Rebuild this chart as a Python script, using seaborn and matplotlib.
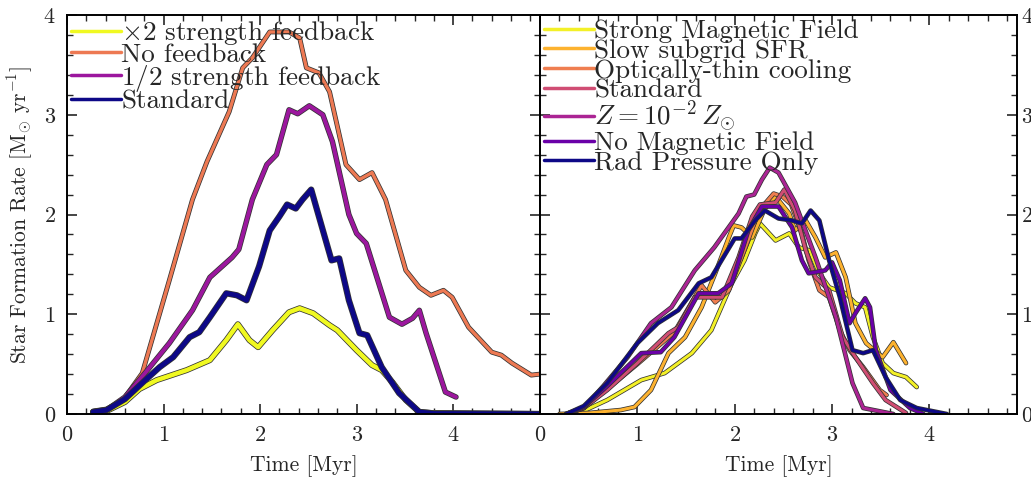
import numpy as np
import pandas as pd
import matplotlib
matplotlib.use("Agg")
import matplotlib.pyplot as plt
import matplotlib.patheffects as pe
from matplotlib.lines import Line2D
from matplotlib.ticker import MultipleLocator
import seaborn as sns

# ---------------- data ----------------
# Left panel: feedback strength runs
L_x2_t = [0.27, 0.41, 0.60, 0.75, 0.93, 1.24, 1.48, 1.65, 1.77, 1.89, 1.98, 2.13, 2.30, 2.41, 2.55, 2.72, 2.80, 3.00, 3.16, 3.26, 3.37, 3.51, 3.65, 3.78, 4.90]
L_x2_v = [0.02, 0.03, 0.12, 0.25, 0.34, 0.44, 0.54, 0.74, 0.90, 0.74, 0.67, 0.84, 1.02, 1.06, 1.01, 0.89, 0.84, 0.64, 0.49, 0.44, 0.32, 0.14, 0.02, 0.01, 0.00]

L_nofb_t = [0.27, 0.41, 0.58, 0.78, 1.06, 1.30, 1.45, 1.68, 1.82, 1.92, 2.10, 2.30, 2.41, 2.48, 2.61, 2.72, 2.89, 3.03, 3.16, 3.30, 3.51, 3.65, 3.77, 3.90, 3.99, 4.16, 4.40, 4.50, 4.61, 4.81, 4.90]
L_nofb_v = [0.03, 0.05, 0.14, 0.41, 1.34, 2.15, 2.53, 3.03, 3.47, 3.57, 3.83, 3.83, 3.77, 3.47, 3.42, 3.23, 2.50, 2.35, 2.42, 2.15, 1.44, 1.27, 1.19, 1.24, 1.17, 0.87, 0.62, 0.59, 0.51, 0.39, 0.40]

L_half_t = [0.27, 0.41, 0.60, 0.80, 1.06, 1.30, 1.48, 1.71, 1.78, 1.92, 2.07, 2.17, 2.30, 2.39, 2.51, 2.65, 2.75, 2.92, 3.00, 3.10, 3.34, 3.47, 3.58, 3.65, 3.72, 3.92, 4.03]
L_half_v = [0.02, 0.04, 0.17, 0.40, 0.71, 1.04, 1.37, 1.57, 1.65, 2.15, 2.50, 2.60, 3.05, 3.01, 3.09, 3.00, 2.73, 2.00, 1.81, 1.71, 0.97, 0.90, 0.96, 1.04, 0.81, 0.22, 0.17]

L_std_t = [0.27, 0.41, 0.60, 0.80, 0.96, 1.10, 1.27, 1.37, 1.48, 1.65, 1.76, 1.86, 1.99, 2.10, 2.20, 2.28, 2.37, 2.44, 2.53, 2.58, 2.74, 2.82, 2.92, 3.03, 3.11, 3.26, 3.44, 3.65, 3.80, 4.90]
L_std_v = [0.02, 0.04, 0.15, 0.33, 0.47, 0.57, 0.77, 0.82, 0.97, 1.21, 1.19, 1.14, 1.48, 1.84, 1.98, 2.10, 2.06, 2.15, 2.25, 2.08, 1.54, 1.56, 1.14, 0.81, 0.79, 0.47, 0.21, 0.02, 0.005, 0.00]

left_labels = [r"$\times$2 strength feedback", "No feedback", r"$1/2$ strength feedback", "Standard"]

# Right panel: physics variations
R_strong_t = [0.38, 0.69, 1.04, 1.28, 1.56, 1.76, 1.97, 2.10, 2.21, 2.26, 2.42, 2.56, 2.66, 2.77, 2.87, 2.97, 3.14, 3.24, 3.34, 3.42, 3.52, 3.63, 3.76, 3.87]
R_strong_v = [0.00, 0.14, 0.34, 0.41, 0.61, 0.84, 1.31, 1.54, 1.81, 1.91, 1.74, 1.81, 1.67, 1.64, 1.41, 1.27, 1.21, 1.11, 1.07, 0.77, 0.51, 0.41, 0.37, 0.27]

R_slow_t = [0.20, 0.50, 0.83, 0.97, 1.14, 1.32, 1.49, 1.66, 1.80, 1.94, 1.99, 2.07, 2.18, 2.31, 2.42, 2.56, 2.62, 2.73, 2.83, 2.93, 3.04, 3.14, 3.24, 3.35, 3.52, 3.63, 3.76]
R_slow_v = [0.00, 0.01, 0.04, 0.07, 0.24, 0.61, 0.77, 1.07, 1.41, 1.77, 1.89, 1.87, 1.77, 2.06, 2.18, 2.01, 1.84, 1.94, 1.77, 1.57, 1.62, 1.37, 0.91, 0.71, 0.57, 0.72, 0.51]

R_thin_t = [0.27, 0.45, 0.69, 1.00, 1.38, 1.66, 1.80, 1.94, 2.11, 2.25, 2.40, 2.49, 2.58, 2.69, 2.76, 2.87, 2.97, 3.08, 3.18, 3.32, 3.49, 3.56]
R_thin_v = [0.00, 0.06, 0.25, 0.50, 0.82, 1.29, 1.12, 1.24, 1.67, 2.04, 2.21, 2.18, 2.10, 1.81, 1.54, 1.24, 1.17, 0.84, 0.64, 0.47, 0.24, 0.19]

R_std_t = [0.27, 0.45, 0.69, 1.00, 1.32, 1.42, 1.59, 1.76, 1.87, 2.04, 2.18, 2.26, 2.42, 2.51, 2.62, 2.73, 2.83, 2.97, 3.11, 3.24, 3.42, 3.55, 3.76]
R_std_v = [0.00, 0.06, 0.24, 0.51, 0.81, 0.87, 1.17, 1.17, 1.17, 1.57, 1.98, 2.10, 2.12, 2.25, 2.04, 1.64, 1.37, 1.24, 0.77, 0.57, 0.31, 0.14, 0.01]

R_lowz_t = [0.27, 0.45, 0.65, 0.90, 1.14, 1.35, 1.59, 1.79, 2.04, 2.12, 2.20, 2.28, 2.36, 2.45, 2.62, 2.83, 3.04, 3.21, 3.32, 3.63]
R_lowz_v = [0.00, 0.06, 0.28, 0.57, 0.91, 1.07, 1.44, 1.67, 2.01, 2.18, 2.20, 2.35, 2.47, 2.42, 2.12, 1.57, 0.97, 0.31, 0.06, 0.00]

R_nomag_t = [0.27, 0.45, 0.69, 1.04, 1.24, 1.38, 1.63, 1.83, 1.97, 2.14, 2.28, 2.45, 2.59, 2.69, 2.76, 2.93, 3.00, 3.08, 3.18, 3.24, 3.34, 3.39, 3.45, 3.60, 3.80, 3.94]
R_nomag_v = [0.00, 0.07, 0.28, 0.61, 0.62, 0.77, 1.21, 1.21, 1.31, 1.84, 2.08, 2.08, 1.87, 1.54, 1.41, 1.44, 1.52, 1.34, 0.91, 1.01, 1.16, 1.07, 0.64, 0.24, 0.06, 0.00]

R_rad_t = [0.27, 0.45, 0.69, 1.00, 1.21, 1.42, 1.63, 1.76, 2.00, 2.07, 2.21, 2.31, 2.45, 2.59, 2.69, 2.78, 2.87, 2.97, 3.08, 3.21, 3.32, 3.42, 3.55, 3.70, 3.87, 4.18]
R_rad_v = [0.00, 0.08, 0.31, 0.71, 0.91, 1.04, 1.31, 1.37, 1.76, 1.76, 1.94, 2.04, 1.96, 1.94, 1.91, 2.04, 1.94, 1.54, 1.17, 0.64, 0.61, 0.64, 0.37, 0.14, 0.06, 0.00]

right_labels = ["Strong Magnetic Field", "Slow subgrid SFR", "Optically-thin cooling", "Standard",
                r"$Z = 10^{-2}\,Z_{\odot}$", "No Magnetic Field", "Rad Pressure Only"]

xticks = [0, 1, 2, 3, 4]
yticks = [0, 1, 2, 3, 4]

# ---------------- style ----------------
sns.set_theme(style="ticks")
plt.rcParams.update({
    "font.family": "serif",
    "font.serif": ["cmr10", "DejaVu Serif"],
    "mathtext.fontset": "cm",
    "axes.formatter.use_mathtext": True,
    "font.size": 15,
    "axes.labelsize": 15.5,
    "xtick.labelsize": 16,
    "ytick.labelsize": 16,
    "axes.edgecolor": "black",
    "axes.linewidth": 1.4,
})

cmap = plt.get_cmap("plasma")
left_colors = [cmap(v) for v in [1.0, 2 / 3, 1 / 3, 0.0]]
right_colors = [cmap(v) for v in [0.98, 0.83, 0.68, 0.52, 0.38, 0.20, 0.0]]

fig = plt.figure(figsize=(10.31, 4.80), dpi=100)
axL = fig.add_axes([67 / 1031, 1 - 414 / 480, 473 / 1031, 399 / 480])
axR = fig.add_axes([540 / 1031, 1 - 414 / 480, 477 / 1031, 399 / 480])

left_series = [(L_x2_t, L_x2_v), (L_nofb_t, L_nofb_v), (L_half_t, L_half_v), (L_std_t, L_std_v)]
left_lw = [3.2, 2.4, 2.8, 3.4]
right_series = [(R_strong_t, R_strong_v), (R_slow_t, R_slow_v), (R_thin_t, R_thin_v), (R_std_t, R_std_v),
                (R_lowz_t, R_lowz_v), (R_nomag_t, R_nomag_v), (R_rad_t, R_rad_v)]


def draw(ax, series, labels, colors, lws):
    handles = []
    for (t, v), lab, c, lw in zip(series, labels, colors, lws):
        df = pd.DataFrame({"t": t, "v": v})
        n_before = len(ax.lines)
        sns.lineplot(data=df, x="t", y="v", ax=ax, color=c, lw=lw, sort=False,
                     estimator=None, legend=False)
        line = ax.lines[n_before]
        line.set_path_effects([pe.Stroke(linewidth=lw + 1.1, foreground="#333333"), pe.Normal()])
        line.set_solid_capstyle("round")
        line.set_solid_joinstyle("round")
        handles.append(Line2D([0], [0], color=c, lw=2.5))
    ax.legend(handles, labels, loc="upper left", frameon=False, fontsize=19.5,
              handlelength=1.85, handletextpad=0.0, labelspacing=-0.15,
              borderpad=0.0, borderaxespad=0.15)


draw(axL, left_series, left_labels, left_colors, left_lw)
draw(axR, right_series, right_labels, right_colors, [2.2] * 7)

for ax in (axL, axR):
    ax.set_xlim(0, 4.9)
    ax.set_ylim(0, 4)
    ax.set_xticks(xticks)
    ax.set_yticks(yticks)
    ax.xaxis.set_minor_locator(MultipleLocator(0.2))
    ax.yaxis.set_minor_locator(MultipleLocator(0.2))
    ax.tick_params(which="both", direction="in", top=True, right=True, left=True, bottom=True)
    ax.tick_params(which="major", length=7, width=1.2, pad=8)
    ax.tick_params(which="minor", length=4, width=1.0)
    ax.set_xlabel("Time [Myr]", labelpad=8)

axL.set_ylabel(r"Star Formation Rate [M$_{\odot}$ yr$^{-1}$]", labelpad=6)
axR.set_ylabel("")
axR.tick_params(axis="y", which="both", labelleft=False, labelright=True, pad=3)

fig.savefig("out.png", dpi=100)
